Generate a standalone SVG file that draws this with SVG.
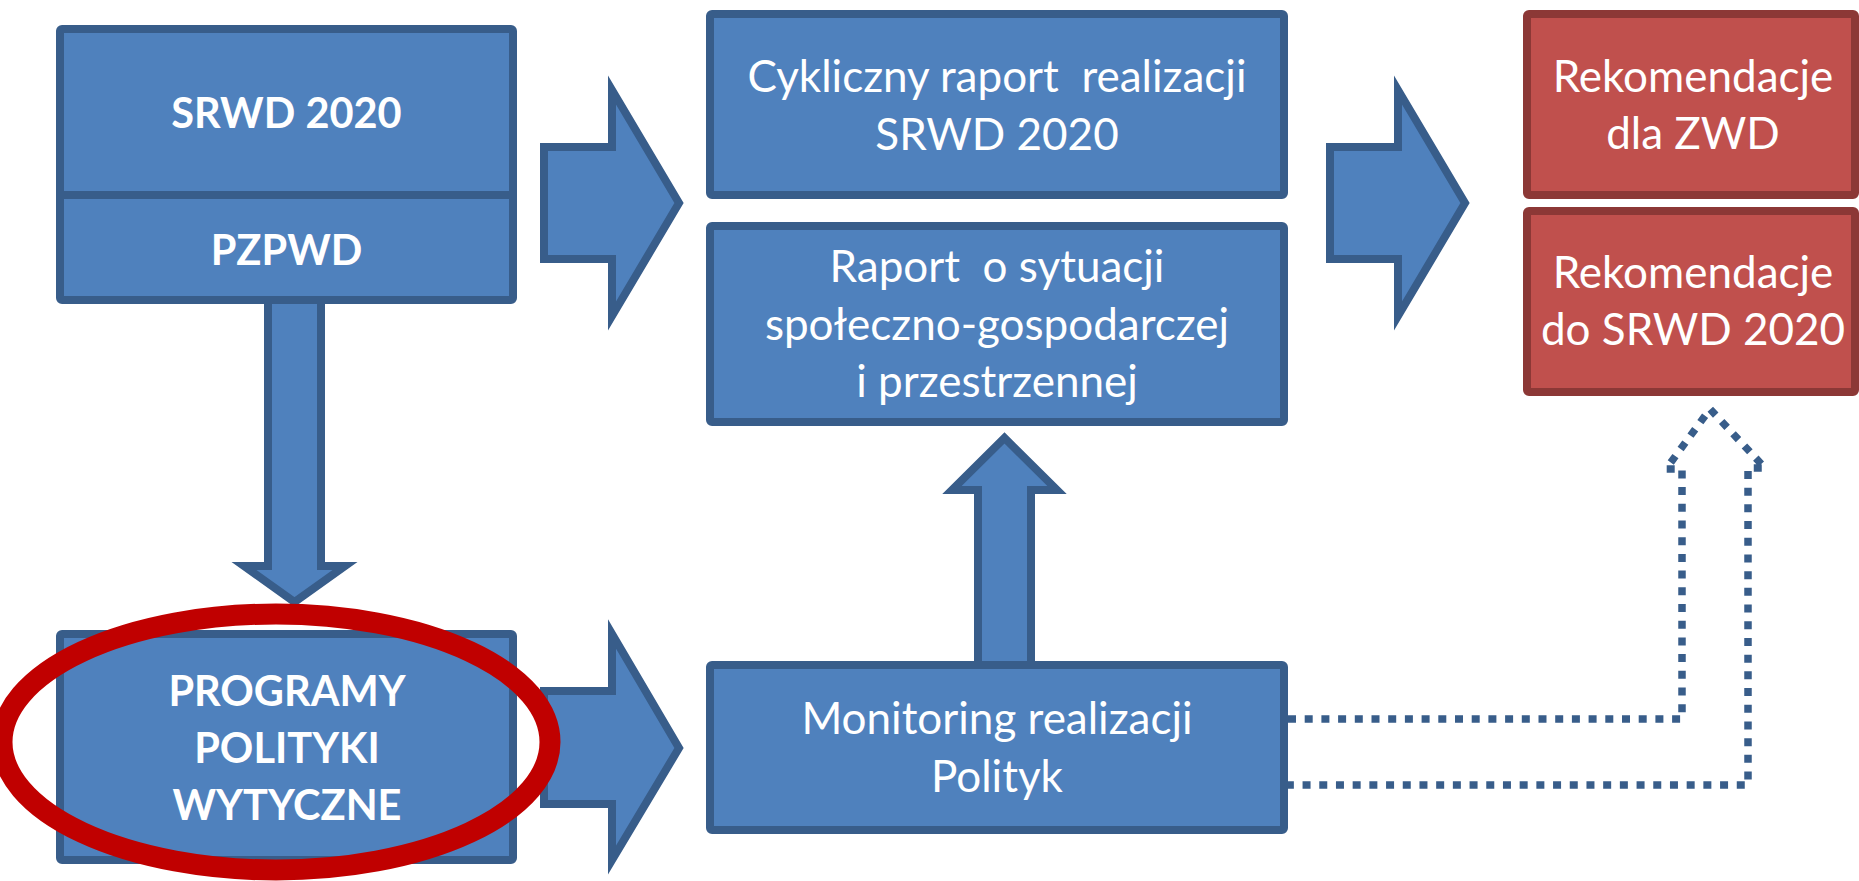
<svg xmlns="http://www.w3.org/2000/svg" width="1859" height="881" viewBox="0 0 1859 881">
<defs>
<style>
.blue{fill:#4F81BD;stroke:#385D8A;stroke-width:8;stroke-linejoin:miter;stroke-miterlimit:10}
.red{fill:#C0504D;stroke:#8C3836;stroke-width:8}
.arr{fill:#4F81BD;stroke:#385D8A;stroke-width:8;stroke-linejoin:miter;stroke-miterlimit:10}
.dot{fill:none;stroke:#385D8A;stroke-width:7.5;stroke-dasharray:8 8.7;stroke-linecap:butt;stroke-linejoin:miter}
.t{font-family:Lato,"Open Sans","Liberation Sans",sans-serif;font-size:44px;fill:#FFFFFF;text-anchor:middle;white-space:pre}
.b{font-weight:bold;font-size:41.5px}
</style>
</defs>
<rect width="1859" height="881" fill="#FFFFFF"/>
<g id="connectors">
<path class="arr" d="M268,300 V566 H244 L294.5,602 L345,566 H321 V300"/>
<path class="arr" d="M544,147 H612 V90 L679,203 L612,316 V259 H544 Z"/>
<path class="arr" d="M544,691 H612 V634 L679,748 L612,860 V804 H544 Z"/>
<path class="arr" d="M1330,147 H1398 V90 L1465,203 L1398,316 V259 H1330 Z"/>
<path class="arr" d="M978,661 V490 H952 L1004.5,438 L1057,490 H1031 V661"/>
<path class="dot" d="M1288,719 H1682 V469 H1666 L1710,409 L1765,468 H1748 V785 H1288"/>
</g>
<g id="node-srwd">
<rect class="blue" x="60" y="29" width="453" height="271" rx="2"/>
<line x1="60" y1="195" x2="513" y2="195" stroke="#385D8A" stroke-width="8"/>
<text class="t b" x="286.5" y="128">SRWD 2020</text>
<text class="t b" x="286.5" y="265">PZPWD</text>
</g>
<g id="node-programy">
<rect class="blue" x="60" y="634" width="453" height="226" rx="2"/>
<text class="t b" x="287" y="706">PROGRAMY</text>
<text class="t b" x="287" y="763">POLITYKI</text>
<text class="t b" x="287" y="820">WYTYCZNE</text>
</g>
<g id="node-cykliczny">
<rect class="blue" x="710" y="14" width="574" height="181" rx="2"/>
<text class="t" x="997" y="92">Cykliczny raport  realizacji</text>
<text class="t" x="997" y="150">SRWD 2020</text>
</g>
<g id="node-raport">
<rect class="blue" x="710" y="226" width="574" height="196" rx="2"/>
<text class="t" x="997" y="282">Raport  o sytuacji</text>
<text class="t" x="997" y="339.5">społeczno-gospodarczej</text>
<text class="t" x="997" y="397">i przestrzennej</text>
</g>
<g id="node-monitoring">
<rect class="blue" x="710" y="665" width="574" height="165" rx="2"/>
<text class="t" x="997" y="734">Monitoring realizacji</text>
<text class="t" x="997" y="792">Polityk</text>
</g>
<g id="node-rek-zwd">
<rect class="red" x="1527" y="14" width="328" height="181" rx="2"/>
<text class="t" x="1693" y="92">Rekomendacje</text>
<text class="t" x="1693" y="149">dla ZWD</text>
</g>
<g id="node-rek-srwd">
<rect class="red" x="1527" y="211" width="328" height="181" rx="2"/>
<text class="t" x="1693" y="288">Rekomendacje</text>
<text class="t" x="1693" y="345">do SRWD 2020</text>
</g>
<g id="highlight">
<ellipse cx="276" cy="742" rx="274" ry="128" fill="none" stroke="#C00000" stroke-width="21"/>
</g>
</svg>
